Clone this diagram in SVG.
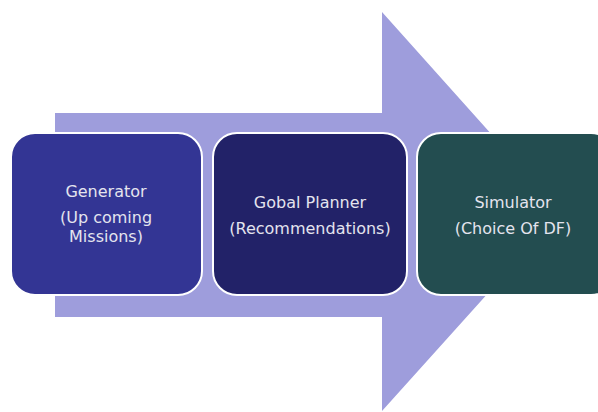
<svg xmlns="http://www.w3.org/2000/svg" width="598" height="412" viewBox="0 0 598 412">
<style>
.box{stroke:#ffffff;stroke-width:2}
.t{font-family:"DejaVu Sans",Verdana,sans-serif;font-size:16px;fill:#e4e4ee;text-anchor:middle}
</style>
<rect width="598" height="412" fill="#ffffff"/>
<g id="connectors">
<polygon points="55,113 382,113 382,12 561,212 382,411 382,317 55,317" fill="#9e9ddc"/>
</g>
<g id="generator">
<rect class="box" x="11" y="133" width="191" height="162" rx="24" fill="#333594"/>
<text class="t" x="106" y="197">Generator</text>
<text class="t" x="106" y="223">(Up coming</text>
<text class="t" x="106" y="242">Missions)</text>
</g>
<g id="planner">
<rect class="box" x="213" y="133" width="194" height="162" rx="24" fill="#222268"/>
<text class="t" x="310" y="208">Gobal Planner</text>
<text class="t" x="310" y="234">(Recommendations)</text>
</g>
<g id="simulator">
<rect class="box" x="417" y="133" width="198" height="162" rx="24" fill="#234d50"/>
<text class="t" x="513" y="208">Simulator</text>
<text class="t" x="513" y="234">(Choice Of DF)</text>
</g>
</svg>
